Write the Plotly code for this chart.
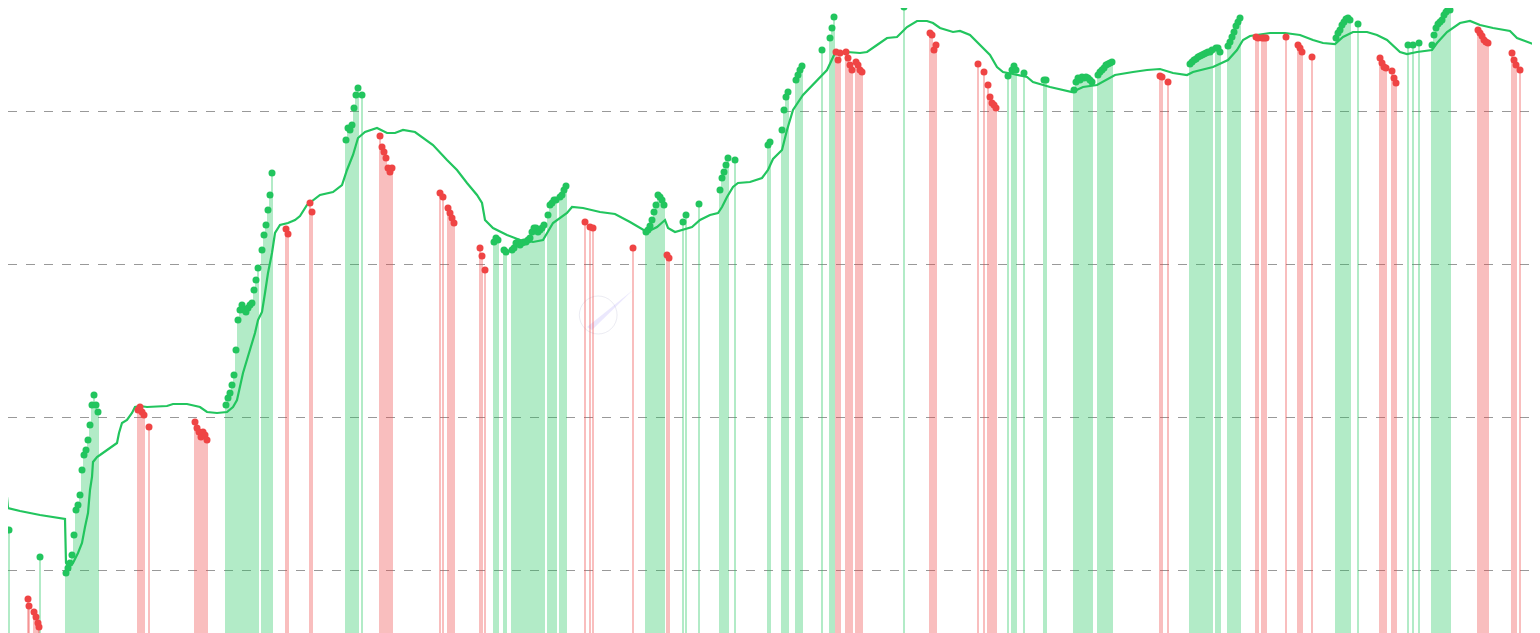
import plotly.graph_objects as go

# ---- moving-average line (day index, level) ----
ma_day = [7, 8, 20, 40, 65, 66, 68, 73, 78, 82, 85, 88, 90, 92, 93, 97, 100, 107, 112, 117, 119, 122, 127, 132, 135,
          140, 147, 167, 173, 187, 200, 207, 217, 227, 233, 237, 243, 250, 255, 258, 262, 265, 268, 272, 275, 280, 288,
          295, 300, 307, 320, 333, 342, 347, 353, 358, 365, 377, 387, 395, 403, 415, 433, 447, 457, 467, 477, 482, 485,
          493, 507, 520, 533, 543, 553, 567, 572, 583, 593, 600, 615, 630, 647, 657, 665, 668, 675, 683, 692, 700, 710,
          718, 722, 727, 733, 738, 750, 762, 768, 773, 782, 787, 793, 803, 817, 827, 835, 847, 860, 867, 877, 887, 897,
          907, 917, 927, 933, 940, 953, 960, 970, 977, 990, 997, 1003, 1013, 1027, 1033, 1050, 1072, 1083, 1097, 1115,
          1133, 1147, 1160, 1173, 1187, 1193, 1213, 1223, 1228, 1237, 1243, 1250, 1257, 1270, 1285, 1300, 1313, 1323,
          1335, 1343, 1353, 1367, 1377, 1387, 1400, 1407, 1417, 1432, 1437, 1447, 1460, 1470, 1480, 1493, 1510, 1517,
          1533]
ma_val = [136, 125, 122, 118, 114, 70, 67, 70, 80, 90, 106, 120, 143, 156, 171, 176, 178, 183, 186, 190, 200, 210, 213,
          220, 226, 227, 226, 227, 229, 229, 226, 221, 220, 221, 226, 233, 260, 283, 300, 313, 321, 340, 360, 380, 400,
          408, 410, 413, 417, 428, 438, 441, 448, 463, 478, 495, 501, 505, 500, 500, 503, 501, 488, 473, 463, 450, 438,
          430, 413, 405, 398, 393, 391, 393, 410, 420, 426, 425, 423, 421, 419, 411, 401, 406, 413, 405, 401, 403, 406,
          413, 418, 420, 426, 436, 446, 450, 451, 455, 463, 474, 483, 503, 523, 538, 553, 563, 580, 581, 580, 581, 588,
          595, 596, 606, 612, 612, 610, 605, 601, 602, 598, 591, 578, 566, 561, 559, 556, 551, 546, 541, 546, 548, 558,
          561, 563, 564, 560, 558, 561, 566, 571, 573, 583, 593, 597, 598, 600, 600, 598, 593, 590, 589, 596, 601, 601,
          598, 593, 581, 579, 581, 583, 590, 601, 610, 612, 608, 605, 602, 595, 589]

# ---- price points above the average (green) ----
up_day = [9, 40, 66, 68, 70, 72, 74, 76, 78, 80, 82, 84, 86, 88, 90, 92, 94, 96, 98,
          226, 228, 230, 232, 234, 236, 238, 240, 242, 244, 246, 248, 250, 252, 254, 256, 258, 262, 264, 266, 268, 270, 272,
          346, 348, 350, 352, 354, 356, 358, 362,
          494, 496, 498, 504, 506, 512, 514, 516, 518, 520, 522, 524, 526, 528, 530, 532, 534, 536, 538, 540, 542, 544,
          548, 550, 552, 554, 556, 560, 562, 564, 566,
          646, 648, 650, 652, 654, 656, 658, 660, 662, 664, 683, 686, 699, 720, 722, 724, 726, 728, 735,
          768, 770, 782, 784, 786, 788, 796, 798, 800, 802, 822, 830, 832, 834, 904,
          1008, 1012, 1014, 1016, 1024, 1044, 1046,
          1074, 1076, 1078, 1080, 1082, 1084, 1086, 1088, 1090, 1092, 1098, 1100, 1102, 1104, 1106, 1108, 1110, 1112,
          1190, 1192, 1194, 1196, 1198, 1200, 1202, 1204, 1206, 1208, 1210, 1212, 1216, 1218, 1220, 1228, 1230, 1232,
          1234, 1236, 1238, 1240,
          1336, 1338, 1340, 1342, 1344, 1346, 1348, 1350, 1358, 1408, 1413, 1419,
          1432, 1434, 1436, 1438, 1440, 1442, 1444, 1446, 1448, 1450]
up_val = [103, 76, 60, 65, 70, 78, 98, 123, 128, 138, 163, 178, 183, 193, 208, 228, 238, 228, 221,
          228, 235, 240, 248, 258, 283, 313, 323, 328, 323, 321, 325, 328, 330, 343, 353, 365, 383, 398, 408, 423, 438, 460,
          493, 505, 503, 508, 525, 538, 545, 538,
          391, 395, 393, 383, 381, 383, 385, 390, 391, 388, 390, 391, 391, 393, 395, 401, 405, 405, 401, 403, 405, 408,
          418, 428, 430, 433, 433, 436, 438, 443, 447,
          401, 403, 407, 413, 421, 428, 438, 436, 433, 428, 411, 418, 429, 443, 455, 461, 468, 475, 473,
          488, 491, 503, 523, 536, 541, 553, 558, 563, 567, 583, 595, 605, 616, 626,
          557, 563, 567, 563, 560, 553, 553,
          543, 551, 555, 553, 556, 555, 556, 555, 553, 551, 558, 561, 563, 565, 568, 569, 570, 571,
          569, 571, 573, 574, 576, 577, 578, 579, 580, 581, 581, 583, 585, 585, 581, 587, 591, 596,
          601, 607, 611, 615,
          595, 600, 603, 608, 611, 614, 615, 613, 609, 588, 588, 590,
          588, 598, 605, 609, 611, 613, 618, 621, 625, 623]

# ---- price points below the average (red) ----
down_day = [28, 29, 34, 36, 38, 39, 138, 140, 142, 144, 149, 195, 197, 199, 201, 203, 205, 207, 286, 288, 310, 312,
            380, 382, 384, 386, 388, 390, 392, 440, 443, 448, 450, 452, 454, 480, 482, 485, 585, 590, 593, 633, 667, 669,
            836, 838, 840, 846, 848, 850, 852, 856, 858, 860, 862, 930, 932, 934, 936,
            978, 984, 988, 990, 992, 994, 996, 1160, 1162, 1168,
            1256, 1258, 1262, 1264, 1266, 1286, 1298, 1300, 1302, 1312,
            1380, 1382, 1384, 1386, 1392, 1394, 1396, 1478, 1480, 1482, 1484, 1486, 1488, 1512, 1514, 1516, 1520]
down_val = [34, 27, 21, 16, 10, 6, 223, 226, 221, 218, 206, 211, 205, 201, 196, 201, 198, 193, 404, 399, 430, 421,
            497, 486, 481, 475, 465, 461, 465, 440, 436, 425, 420, 415, 410, 385, 377, 363, 411, 406, 405, 385, 378, 375,
            581, 573, 580, 581, 575, 568, 563, 571, 568, 563, 561, 600, 598, 583, 588,
            569, 561, 548, 536, 530, 528, 525, 557, 556, 551,
            596, 595, 595, 595, 595, 596, 588, 585, 581, 576,
            575, 570, 566, 565, 562, 555, 550, 603, 600, 597, 593, 591, 590, 580, 573, 568, 563]

grid_levels = [63, 216, 369, 522]

GREEN = "rgb(34,197,94)"
RED = "rgb(239,68,68)"


def bar_widths(days):
    # full day-width inside runs of consecutive points, thinner for isolated points
    s = sorted(days)
    out = []
    for d in days:
        near = any(0 < abs(o - d) <= 2 for o in s)
        out.append(2 if near else 1.2)
    return out


fig = go.Figure()
fig.add_trace(go.Bar(x=up_day, y=up_val, width=bar_widths(up_day),
                     marker=dict(color="rgba(34,197,94,0.35)", line=dict(width=0)), hoverinfo="skip"))
fig.add_trace(go.Bar(x=down_day, y=down_val, width=bar_widths(down_day),
                     marker=dict(color="rgba(239,68,68,0.35)", line=dict(width=0)), hoverinfo="skip"))
fig.add_trace(go.Scatter(x=ma_day, y=ma_val, mode="lines", line=dict(color=GREEN, width=2.2)))
fig.add_trace(go.Scatter(x=up_day, y=up_val, mode="markers", marker=dict(color=GREEN, size=7, line=dict(width=0))))
fig.add_trace(go.Scatter(x=down_day, y=down_val, mode="markers", marker=dict(color=RED, size=7, line=dict(width=0))))

# the page body adds an 8px margin; ranges are offset so the plot lines up with the window
fig.update_layout(
    width=1540, height=633,
    margin=dict(l=0, r=0, t=0, b=0),
    paper_bgcolor="white", plot_bgcolor="white",
    showlegend=False, barmode="overlay", bargap=0,
    xaxis=dict(range=[8, 1548], showgrid=False, zeroline=False, showticklabels=False, ticks="", showline=False),
    yaxis=dict(range=[-8, 625], tickvals=grid_levels, showgrid=True, gridcolor="#999999", gridwidth=1,
               griddash="dash", zeroline=False, showticklabels=False, ticks="", showline=False),
    shapes=[
        dict(type="circle", xref="paper", yref="paper", x0=0.371, x1=0.3955, y0=0.485, y1=0.545,
             line=dict(color="rgba(215,215,230,0.5)", width=1), layer="below"),
        dict(type="path", xref="paper", yref="paper", path="M 0.3760 0.4960 L 0.4058 0.5545 L 0.3792 0.4913 Z",
             fillcolor="rgba(190,180,250,0.3)", line=dict(width=0), layer="below"),
    ],
)

fig.write_html("out.html")
